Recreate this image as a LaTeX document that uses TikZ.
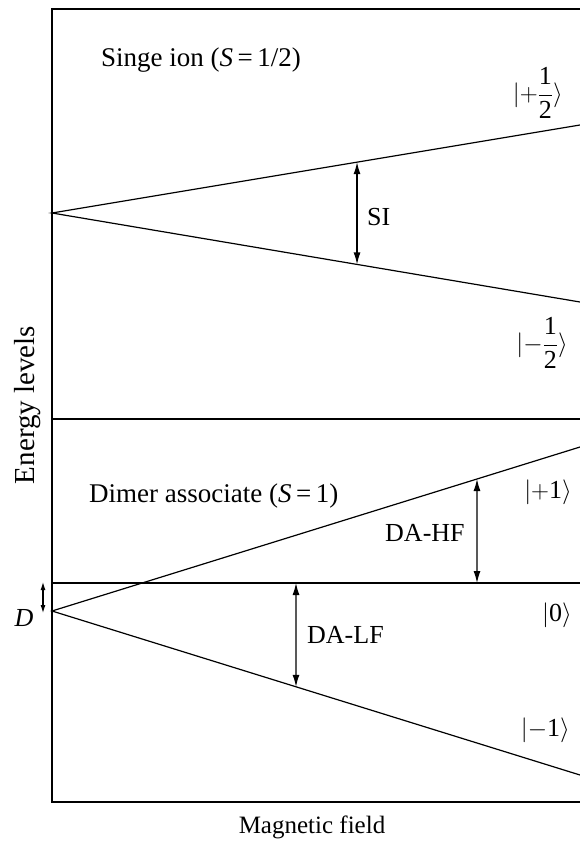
\documentclass[tikz,border=0pt]{standalone}
\usepackage{fontspec}
\setmainfont{Liberation Serif}
\usepackage{amsmath}
\usetikzlibrary{arrows.meta,calc}
\tikzset{
  lvl/.style={line width=1.2pt},
  trans/.style={line width=1.2pt,{Latex[length=12pt,width=7pt]}-{Latex[length=12pt,width=7pt]}},
  lbl/.style={inner sep=0pt,font=\fontsize{26}{30}\selectfont},
  big/.style={inner sep=0pt,font=\fontsize{27}{32}\selectfont},
}
\newcommand{\hfr}{\dfrac{\text{1}}{\text{2}}}
\begin{document}
\begin{tikzpicture}[x=1pt,y=-1pt]
\useasboundingbox (0,0) rectangle (580,842);
% frame
\coordinate (TL) at (52,9);
\coordinate (TR) at (580,9);
\coordinate (BL) at (52,802);
\coordinate (BR) at (580,802);
\draw[lvl] (TR) -- (TL) -- (BL) -- (BR);
% separator
\coordinate (ML) at (52,419);
\coordinate (MR) at (580,419);
\draw[lvl] (ML) -- (MR);
% single ion
\coordinate (O1) at (52,213);
\coordinate (A1) at (580,125);
\coordinate (B1) at (580,302);
\draw[lvl] (A1) -- (O1) -- (B1);
\coordinate (s1) at ($(O1)!0.5777!(A1)$);
\coordinate (s2) at ($(O1)!0.5777!(B1)$);
\draw[trans] (s1) -- (s2);
\node[lbl,anchor=west] (SI) at (367,217) {SI};
\node[big,anchor=base west] (t1) at (101,67) {Singe ion (\textit{S}\,=\,1/2)};
\node[lbl,anchor=east] (kp) at (563,93) {$|{+}\hfr\rangle$};
\node[lbl,anchor=east] (km) at (568,343) {$|{-}\hfr\rangle$};
% dimer
\coordinate (ZL) at (52,583);
\coordinate (ZR) at (580,583);
\draw[lvl] (ZL) -- (ZR);
\coordinate (O2) at (52,611);
\coordinate (A2) at (580,447);
\coordinate (B2) at (580,775);
\draw[lvl] (A2) -- (O2) -- (B2);
\coordinate (h1) at ($(O2)!0.8049!(A2)$);
\coordinate (h2) at (477,583);
\draw[trans] (h1) -- (h2);
\coordinate (l1) at (296,583);
\coordinate (l2) at ($(O2)!0.4621!(B2)$);
\draw[trans] (l1) -- (l2);
\node[lbl,anchor=west] (HF) at (385,533) {DA-HF};
\node[lbl,anchor=west] (LF) at (307,635) {DA-LF};
\node[big,anchor=base west] (t2) at (89,502) {Dimer associate (\textit{S}\,=\,1)};
\node[lbl,anchor=east] (k1) at (572,492) {$|{+}\text{1}\rangle$};
\node[lbl,anchor=east] (k0) at (572,615) {$|\text{0}\rangle$};
\node[lbl,anchor=east] (kn) at (570,730) {$|{-}\text{1}\rangle$};
% D
\coordinate (d1) at (43,582);
\coordinate (d2) at (43,613);
\draw[line width=1.1pt,{Latex[length=8pt,width=5pt]}-{Latex[length=8pt,width=5pt]}] (d1) -- (d2);
\node[lbl] (D) at (24,618) {\textit{D}};
% axes labels
\node[inner sep=0pt,font=\fontsize{29}{34}\selectfont,rotate=90] (EL) at (28,405) {Energy levels};
\node[inner sep=0pt,font=\fontsize{25}{30}\selectfont] (MF) at (312,827) {Magnetic field};
\end{tikzpicture}
\end{document}
